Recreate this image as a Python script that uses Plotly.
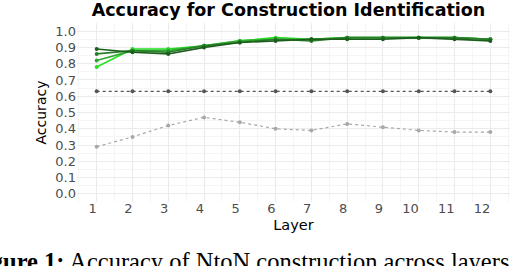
import plotly.graph_objects as go

layers = list(range(1, 13))
series_a = [0.89, 0.87, 0.86, 0.90, 0.93, 0.94, 0.95, 0.95, 0.95, 0.96, 0.95, 0.94]
series_b = [0.86, 0.88, 0.87, 0.91, 0.93, 0.95, 0.94, 0.96, 0.96, 0.96, 0.96, 0.95]
series_c = [0.82, 0.88, 0.88, 0.91, 0.94, 0.95, 0.95, 0.96, 0.96, 0.96, 0.96, 0.95]
series_d = [0.78, 0.89, 0.89, 0.91, 0.94, 0.96, 0.95, 0.96, 0.96, 0.96, 0.96, 0.95]
baseline_majority = [0.63] * 12
baseline_random = [0.29, 0.35, 0.42, 0.47, 0.44, 0.40, 0.39, 0.43, 0.41, 0.39, 0.38, 0.38]

x_tick_labels = [str(v) for v in layers]
y_ticks = [0.0, 0.1, 0.2, 0.3, 0.4, 0.5, 0.6, 0.7, 0.8, 0.9, 1.0]
y_tick_labels = [f"{v:.1f}" for v in y_ticks]

fig = go.Figure()

fig.add_trace(go.Scatter(x=layers, y=baseline_random, mode="lines+markers",
                         line=dict(color="#a8a8a8", width=1.2, dash="dot"),
                         marker=dict(color="#a8a8a8", size=4)))
fig.add_trace(go.Scatter(x=layers, y=baseline_majority, mode="lines+markers",
                         line=dict(color="#555555", width=1.2, dash="dot"),
                         marker=dict(color="#555555", size=4)))

greens = ["#1b5e1b", "#2a7d2a", "#2ea82e", "#22e022"]
for s, c in zip([series_d, series_c, series_b, series_a], greens[::-1]):
    fig.add_trace(go.Scatter(x=layers, y=s, mode="lines+markers",
                             line=dict(color=c, width=1.6),
                             marker=dict(color=c, size=4)))

fig.update_layout(
    width=528, height=266,
    margin=dict(l=77, r=18, t=23, b=64),
    paper_bgcolor="white", plot_bgcolor="white",
    showlegend=False,
    font=dict(family="DejaVu Sans", size=13, color="#4d4d4d"),
    title=dict(text="<b>Accuracy for Construction Identification</b>",
               x=288.5 / 528, xanchor="center", y=1 - 10 / 266, yanchor="middle",
               font=dict(family="DejaVu Sans", size=17.5, color="black")),
)
# ggplot-style right-aligned x labels: pad with figure spaces
padded = [t + "\u2007" * len(t) for t in x_tick_labels]
fig.update_xaxes(
    range=[0.45, 12.55], tickmode="array", tickvals=layers, ticktext=padded,
    showgrid=True, gridcolor="#ebebeb", gridwidth=1,
    minor=dict(showgrid=True, gridcolor="#f5f5f5", dtick=0.5, tick0=0.5),
    zeroline=False, showline=False, ticks="", ticklabelstandoff=-3,
    title=dict(text="Layer", font=dict(size=14.5, color="black"), standoff=4),
    tickfont=dict(size=13, color="#4d4d4d"),
)
fig.update_yaxes(
    range=[-0.05, 1.05], tickmode="array", tickvals=y_ticks, ticktext=y_tick_labels,
    showgrid=True, gridcolor="#ebebeb", gridwidth=1,
    minor=dict(showgrid=True, gridcolor="#f5f5f5", dtick=0.05, tick0=0.05),
    zeroline=False, showline=False, ticks="",
    title=dict(text="Accuracy", font=dict(size=14, color="black"), standoff=5),
    tickfont=dict(size=13, color="#4d4d4d"),
)

fig.add_annotation(
    text="<b>Figure 1:</b> Accuracy of NtoN construction across layers",
    xref="paper", yref="paper", x=-0.255, y=-0.245, xanchor="left", yanchor="top",
    showarrow=False, font=dict(family="Liberation Serif", size=24.5, color="black"),
)

fig.write_html("out.html", config={"displayModeBar": False},
               post_script="document.body.style.margin='0px';")
